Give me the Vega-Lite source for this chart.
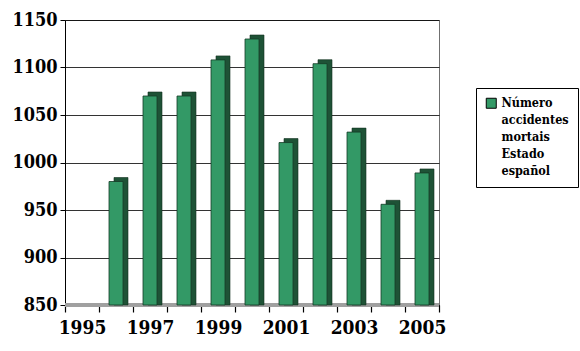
{
  "$schema": "https://vega.github.io/schema/vega-lite/v6.json",
  "width": 374,
  "height": 285,
  "autosize": "none",
  "padding": {"left": 65, "top": 20, "right": 141, "bottom": 46},
  "background": "white",
  "config": {
    "view": {"stroke": "#707070", "strokeWidth": 1},
    "font": "DejaVu Serif Condensed, DejaVu Serif",
    "axis": {"labelFont": "DejaVu Serif Condensed, DejaVu Serif"},
    "legend": {"labelFont": "DejaVu Serif Condensed, DejaVu Serif"}
  },
  "data": {"values": [
    {"year": 1996, "value": 980, "serie": "Número accidentes mortais Estado español"},
    {"year": 1997, "value": 1070, "serie": "Número accidentes mortais Estado español"},
    {"year": 1998, "value": 1070, "serie": "Número accidentes mortais Estado español"},
    {"year": 1999, "value": 1108, "serie": "Número accidentes mortais Estado español"},
    {"year": 2000, "value": 1130, "serie": "Número accidentes mortais Estado español"},
    {"year": 2001, "value": 1021, "serie": "Número accidentes mortais Estado español"},
    {"year": 2002, "value": 1104, "serie": "Número accidentes mortais Estado español"},
    {"year": 2003, "value": 1032, "serie": "Número accidentes mortais Estado español"},
    {"year": 2004, "value": 956, "serie": "Número accidentes mortais Estado español"},
    {"year": 2005, "value": 989, "serie": "Número accidentes mortais Estado español"}
  ]},
  "encoding": {
    "x": {
      "field": "year", "type": "ordinal",
      "scale": {"domain": [1995,1996,1997,1998,1999,2000,2001,2002,2003,2004,2005], "paddingInner": 0, "paddingOuter": 0},
      "axis": {
        "title": null, "labelAngle": 0, "tickBand": "extent", "ticks": true,
        "labelExpr": "datum.value % 2 == 1 ? datum.label : ''",
        "labelOverlap": false, "labelFont": "DejaVu Serif Condensed, DejaVu Serif",
        "labelFontSize": 19, "labelFontWeight": "bold", "labelColor": "#000",
        "labelPadding": 6, "tickSize": 7, "tickColor": "#000", "tickWidth": 1.2, "domainColor": "#000"
      }
    },
    "y": {
      "field": "value", "type": "quantitative",
      "scale": {"domain": [850, 1150], "nice": false, "zero": false},
      "axis": {
        "title": null, "values": [850,900,950,1000,1050,1100,1150], "format": "d",
        "labelFont": "DejaVu Serif Condensed, DejaVu Serif",
        "labelFontSize": 18, "labelFontWeight": "bold", "labelColor": "#000",
        "labelPadding": 3, "tickSize": 5, "tickColor": "#000", "domainColor": "#000",
        "gridColor": "#000", "gridOpacity": 0.8
      }
    }
  },
  "layer": [
    {
      "mark": {"type": "rule", "color": "#a0a0a0", "strokeWidth": 4},
      "encoding": {"y": {"datum": 850}, "x": null}
    },
    {
      "mark": {"type": "bar", "width": 14, "xOffset": 5, "yOffset": -4, "color": "#1e5236", "stroke": "#10301f", "strokeWidth": 0.6},
      "encoding": {"y2": {"datum": 850}}
    },
    {
      "mark": {"type": "bar", "width": 14, "stroke": "#143a26", "strokeWidth": 0.8},
      "encoding": {
        "y2": {"datum": 850},
        "color": {
          "field": "serie", "type": "nominal",
          "scale": {"range": ["#339966"]},
          "legend": {
            "title": null, "orient": "none", "legendX": 411, "legendY": 68,
            "strokeColor": "#000", "fillColor": "#fff", "padding": 9,
            "symbolType": "square", "symbolSize": 100, "symbolStrokeColor": "#000", "symbolStrokeWidth": 1,
            "labelFont": "DejaVu Serif Condensed, DejaVu Serif",
            "labelFontSize": 12.5, "labelFontWeight": "bold", "labelColor": "#000",
            "labelExpr": "split(datum.label, ' ')",
            "labelLimit": 200,
            "encode": {"labels": {"update": {"lineHeight": {"value": 17}}}}
          }
        }
      }
    }
  ]
}
